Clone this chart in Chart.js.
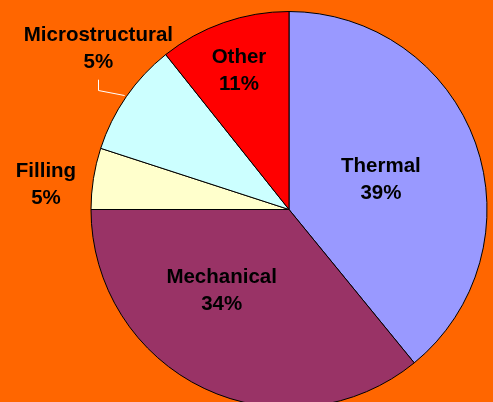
<!DOCTYPE html>
<html>
<head>
<meta charset="utf-8">
<script src="https://cdn.jsdelivr.net/npm/chart.js@4/dist/chart.umd.min.js"></script>
<style>
  html, body { margin: 0; padding: 0; background: #FF6600; overflow: hidden; }
  #wrap { width: 493px; height: 402px; }
</style>
</head>
<body>
<div id="wrap"><canvas id="pieChart" width="493" height="402"></canvas></div>
<script>
// slice data (sizes, printed labels as shown)
const categories = ["Thermal", "Mechanical", "Filling", "Microstructural", "Other"];
const shares = [39.1, 35.9, 5.0, 9.3, 10.7];
const pctLabels = ["39%", "34%", "5%", "5%", "11%"];
const sliceColors = ["#9999FF", "#993366", "#FFFFCC", "#CCFFFF", "#FF0000"];

// where each label sits: fraction of radius + angle (deg, clockwise from top)
const labelSpots = [
  { r: 0.49, deg: 71.3 },
  { r: 0.527, deg: 220.2 },
  { r: 1.235, deg: 276.3 },
  { r: 1.266, deg: 310.5, leader: true },
  { r: 0.753, deg: 340.4 }
];

// ....... label plugin .............
const sliceLabels = {
  id: "sliceLabels",
  afterDatasetsDraw(chart) {
    const ctx = chart.ctx;
    const arcs = chart.getDatasetMeta(0).data;
    ctx.save();
    ctx.font = "bold 20.5px 'Liberation Sans', Arial, sans-serif";
    ctx.textAlign = "center";
    ctx.textBaseline = "alphabetic";
    ctx.fillStyle = "#000";
    arcs.forEach((arc, i) => {
      const spot = labelSpots[i];
      const rad = (spot.deg - 90) * Math.PI / 180;
      const cx = arc.x + Math.cos(rad) * arc.outerRadius * spot.r;
      const cy = arc.y + Math.sin(rad) * arc.outerRadius * spot.r;
      ctx.fillText(categories[i], cx, cy - 6);
      ctx.fillText(pctLabels[i], cx, cy + 21);

      if (spot.leader) {
        const mid = (arc.startAngle + arc.endAngle) / 2;
        const ex = arc.x + Math.cos(mid) * (arc.outerRadius + 2);
        const ey = arc.y + Math.sin(mid) * (arc.outerRadius + 2);
        const sx = Math.round(cx) + 0.5;
        ctx.strokeStyle = "#FFFFFF";
        ctx.lineWidth = 1;
        ctx.beginPath();
        ctx.moveTo(sx, cy + 33);
        ctx.lineTo(sx, ey - 5);
        ctx.lineTo(ex, ey);
        ctx.stroke();
      }
    });
    ctx.restore();
  }
};

new Chart("pieChart", {
  type: "pie",
  data: {
    labels: categories,
    datasets: [
      {
        data: shares,
        backgroundColor: sliceColors,
        borderColor: "#000",
        borderWidth: 1
      }
    ]
  },
  options: {
    responsive: false,
    animation: false,
    radius: 198,
    layout: { padding: { left: 85, top: 17, right: 0, bottom: 0 } },
    plugins: {
      legend: { display: false },
      tooltip: { enabled: false },
      title: { display: false }
    }
  },
  plugins: [sliceLabels]
});
</script>
</body>
</html>
